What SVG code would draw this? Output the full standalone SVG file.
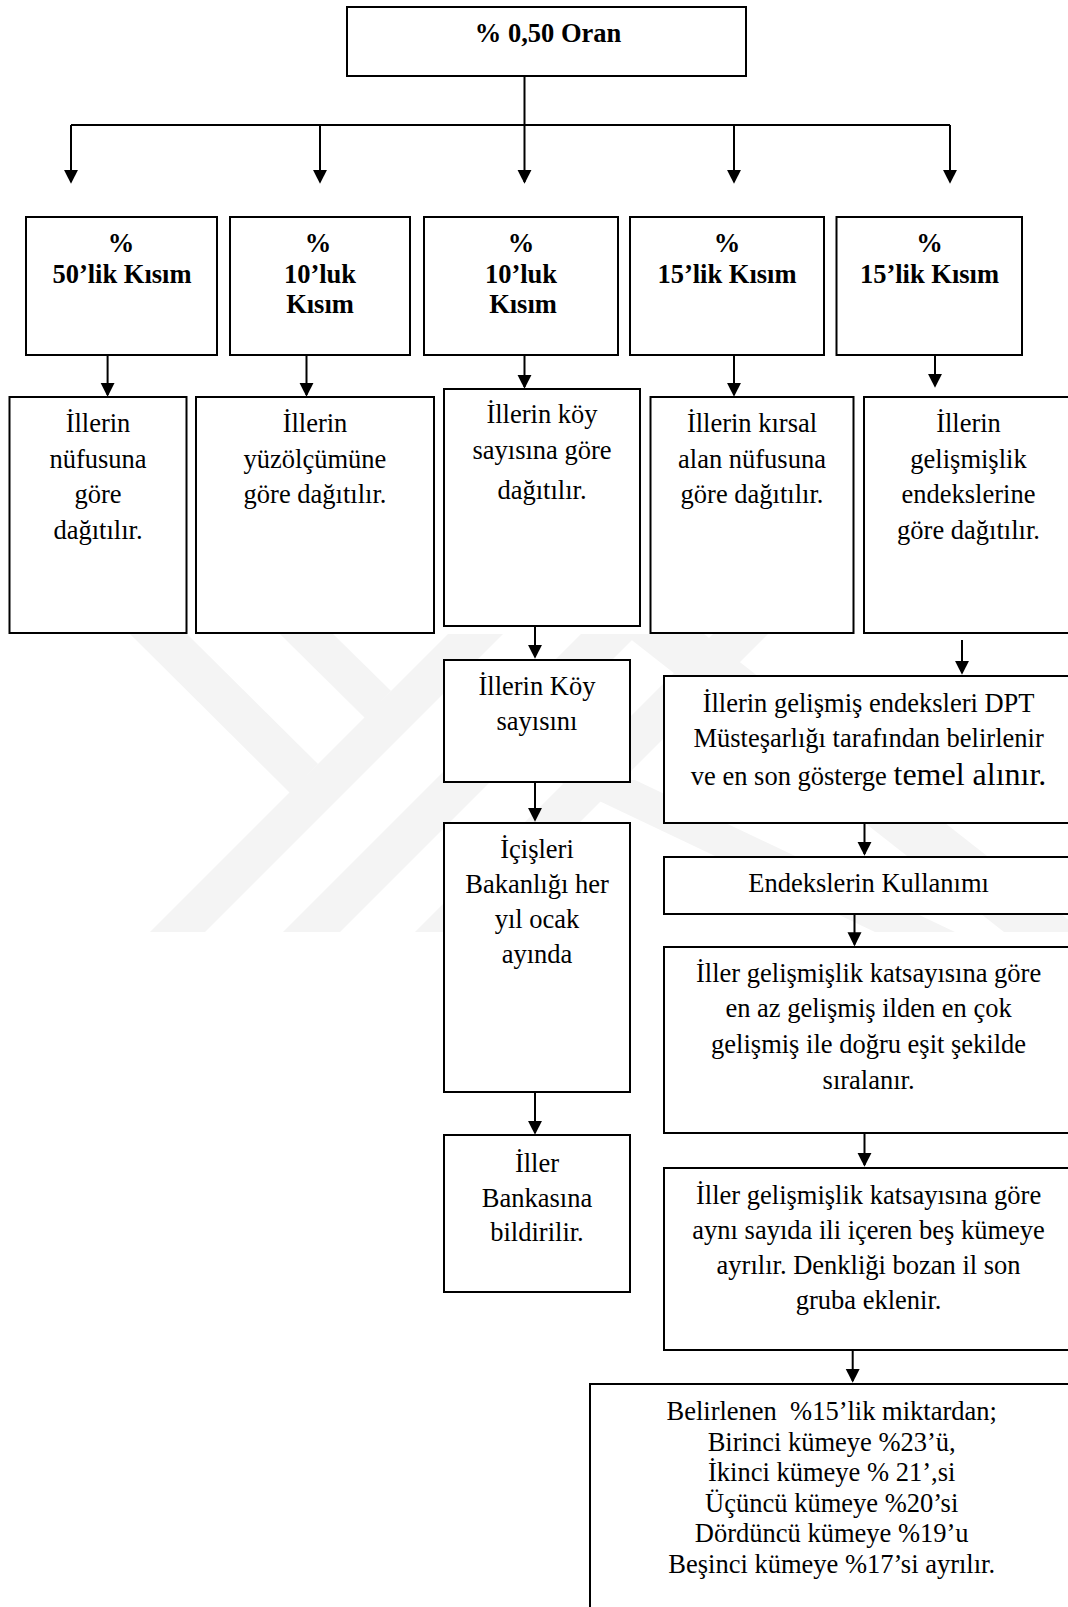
<svg xmlns="http://www.w3.org/2000/svg" width="1068" height="1607" viewBox="0 0 1068 1607">
<style>
.box{fill:#fff;stroke:#000;stroke-width:2}
.t{font-family:"Liberation Serif","Times New Roman",serif;font-size:26.5px;text-anchor:middle;fill:#000}
.b{font-weight:bold}
.ln{stroke:#000;stroke-width:2;fill:none}
.c{stroke:#000;stroke-width:2;fill:none;marker-end:url(#ah)}
.wm{fill:#f4f4f4}
</style>
<defs>
<marker id="ah" markerUnits="userSpaceOnUse" markerWidth="14" markerHeight="15" refX="13" refY="7.5" orient="auto" viewBox="0 0 15 15">
<path d="M0,0 L15,7.5 L0,15 z" fill="#000"/>
</marker>
</defs>
<rect width="1068" height="1607" fill="#fff"/>
<g id="watermark">
<polygon class="wm" points="130,634 187,634 318,764 290,793"/>
<polygon class="wm" points="280,634 333,634 391,691 365,718"/>
<polygon class="wm" points="150,932 205,932 503,634 448,634"/>
<polygon class="wm" points="283,932 340,932 638,634 581,634"/>
<polygon class="wm" points="415,932 470,932 768,634 713,634"/>
<polygon class="wm" points="555,780 635,780 955,932 875,932"/>
<polygon class="wm" points="624,634 704,634 1084,932 1004,932"/>
</g>
<g id="connectors">
<path class="ln" d="M524.5,67 V125"/>
<path class="ln" d="M71,125 H950"/>
<path class="c" d="M71,125 V182"/>
<path class="c" d="M320,125 V182"/>
<path class="c" d="M524.5,125 V182"/>
<path class="c" d="M734,125 V182"/>
<path class="c" d="M950,125 V182"/>
<path class="c" d="M107.6,355 V395"/>
<path class="c" d="M306.5,355 V395"/>
<path class="c" d="M524.5,355 V387"/>
<path class="c" d="M734,355 V395"/>
<path class="c" d="M935,350 V386"/>
<path class="c" d="M535,626 V657"/>
<path class="c" d="M535,782 V820"/>
<path class="c" d="M535,1092 V1133"/>
<path class="c" d="M962,640 V673"/>
<path class="c" d="M864.5,823 V854"/>
<path class="c" d="M854.5,914 V944.5"/>
<path class="c" d="M864.5,1133 V1165"/>
<path class="c" d="M852.7,1350 V1381"/>
</g>
<g id="n-top">
<rect class="box" x="347" y="7" width="399" height="69"/>
<text class="t b" x="548" y="42">% 0,50 Oran</text>
</g>
<g id="n-50">
<rect class="box" x="26" y="217" width="191" height="138"/>
<text class="t b" x="121" y="252">%</text>
<text class="t b" x="122" y="283">50’lik Kısım</text>
</g>
<g id="n-10a">
<rect class="box" x="230" y="217" width="180" height="138"/>
<text class="t b" x="318" y="252">%</text>
<text class="t b" x="320" y="283">10’luk</text>
<text class="t b" x="320" y="313">Kısım</text>
</g>
<g id="n-10b">
<rect class="box" x="424" y="217" width="194" height="138"/>
<text class="t b" x="521" y="252">%</text>
<text class="t b" x="521" y="283">10’luk</text>
<text class="t b" x="523" y="313">Kısım</text>
</g>
<g id="n-15a">
<rect class="box" x="630" y="217" width="194" height="138"/>
<text class="t b" x="727" y="252">%</text>
<text class="t b" x="727" y="283">15’lik Kısım</text>
</g>
<g id="n-15b">
<rect class="box" x="836.5" y="217" width="185.5" height="138"/>
<text class="t b" x="929.5" y="252">%</text>
<text class="t b" x="929.5" y="283">15’lik Kısım</text>
</g>
<g id="n-nufus">
<rect class="box" x="9.5" y="397" width="177" height="236"/>
<text class="t" x="98" y="432">İllerin</text>
<text class="t" x="98" y="467.5">nüfusuna</text>
<text class="t" x="98" y="503">göre</text>
<text class="t" x="98" y="538.5">dağıtılır.</text>
</g>
<g id="n-yuzolcum">
<rect class="box" x="196" y="397" width="238" height="236"/>
<text class="t" x="315" y="432">İllerin</text>
<text class="t" x="315" y="467.5">yüzölçümüne</text>
<text class="t" x="315" y="503">göre dağıtılır.</text>
</g>
<g id="n-koy">
<rect class="box" x="444" y="389" width="196" height="237"/>
<text class="t" x="542" y="423">İllerin köy</text>
<text class="t" x="542" y="458.5">sayısına göre</text>
<text class="t" x="542" y="499">dağıtılır.</text>
</g>
<g id="n-kirsal">
<rect class="box" x="650.5" y="397" width="203" height="236"/>
<text class="t" x="752" y="432">İllerin kırsal</text>
<text class="t" x="752" y="467.5">alan nüfusuna</text>
<text class="t" x="752" y="503">göre dağıtılır.</text>
</g>
<g id="n-gelismislik">
<rect class="box" x="864" y="397" width="210" height="236"/>
<text class="t" x="968.5" y="432">İllerin</text>
<text class="t" x="968.5" y="467.5">gelişmişlik</text>
<text class="t" x="968.5" y="503">endekslerine</text>
<text class="t" x="968.5" y="538.5">göre dağıtılır.</text>
</g>
<g id="n-koysayisi">
<rect class="box" x="444" y="660" width="186" height="122"/>
<text class="t" x="537" y="695">İllerin Köy</text>
<text class="t" x="537" y="730">sayısını</text>
</g>
<g id="n-icisleri">
<rect class="box" x="444" y="823" width="186" height="269"/>
<text class="t" x="537" y="858">İçişleri</text>
<text class="t" x="537" y="893">Bakanlığı her</text>
<text class="t" x="537" y="928">yıl ocak</text>
<text class="t" x="537" y="963">ayında</text>
</g>
<g id="n-bankasi">
<rect class="box" x="444" y="1135" width="186" height="157"/>
<text class="t" x="537" y="1171.5">İller</text>
<text class="t" x="537" y="1206.5">Bankasına</text>
<text class="t" x="537" y="1241">bildirilir.</text>
</g>
<g id="n-dpt">
<rect class="box" x="664" y="676" width="410" height="147"/>
<text class="t" x="868.6" y="711.5">İllerin gelişmiş endeksleri DPT</text>
<text class="t" x="868.6" y="746.5">Müsteşarlığı tarafından belirlenir</text>
<text class="t" x="868.6" y="785">ve en son gösterge <tspan font-size="32">temel alınır.</tspan></text>
</g>
<g id="n-kullanim">
<rect class="box" x="664" y="857" width="410" height="57"/>
<text class="t" x="868.6" y="891.5">Endekslerin Kullanımı</text>
</g>
<g id="n-siralama">
<rect class="box" x="664" y="947" width="410" height="186"/>
<text class="t" x="868.6" y="981.5">İller gelişmişlik katsayısına göre</text>
<text class="t" x="868.6" y="1017">en az gelişmiş ilden en çok</text>
<text class="t" x="868.6" y="1053">gelişmiş ile doğru eşit şekilde</text>
<text class="t" x="868.6" y="1088.5">sıralanır.</text>
</g>
<g id="n-kume">
<rect class="box" x="664" y="1168" width="410" height="182"/>
<text class="t" x="868.6" y="1203.5">İller gelişmişlik katsayısına göre</text>
<text class="t" x="868.6" y="1238.5">aynı sayıda ili içeren beş kümeye</text>
<text class="t" x="868.6" y="1273.5">ayrılır. Denkliği bozan il son</text>
<text class="t" x="868.6" y="1308.5">gruba eklenir.</text>
</g>
<g id="n-dagilim">
<rect class="box" x="590" y="1384" width="484" height="230"/>
<text class="t" x="831.7" y="1420">Belirlenen&#160; %15’lik miktardan;</text>
<text class="t" x="831.7" y="1450.5">Birinci kümeye %23’ü,</text>
<text class="t" x="831.7" y="1481">İkinci kümeye % 21’,si</text>
<text class="t" x="831.7" y="1511.5">Üçüncü kümeye %20’si</text>
<text class="t" x="831.7" y="1542">Dördüncü kümeye %19’u</text>
<text class="t" x="831.7" y="1572.5">Beşinci kümeye %17’si ayrılır.</text>
</g>
</svg>
